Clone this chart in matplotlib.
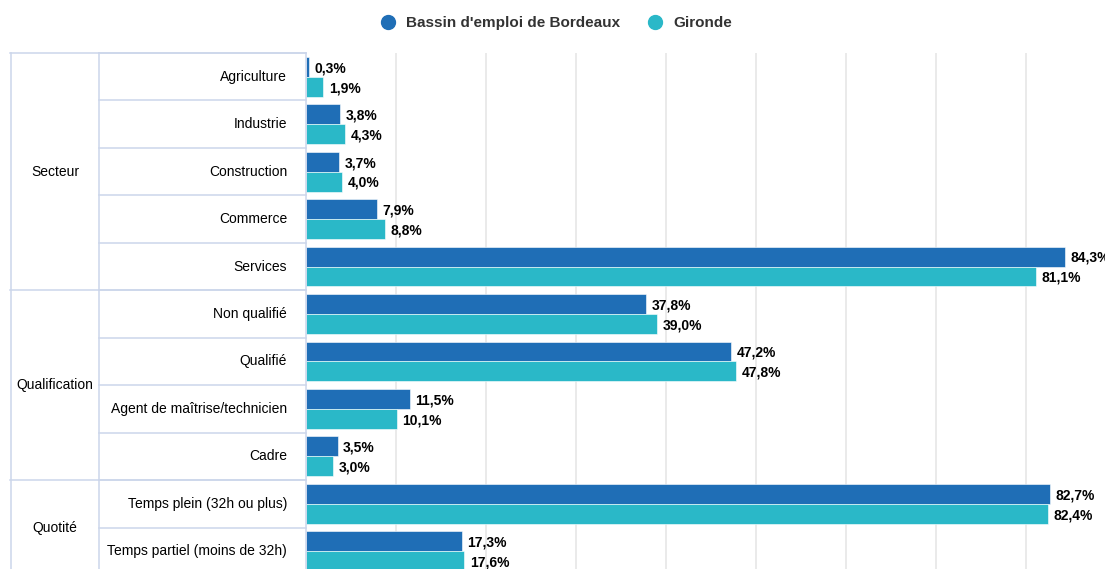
import matplotlib.pyplot as plt
from matplotlib.lines import Line2D

plt.rcParams['font.family'] = ['Liberation Sans', 'DejaVu Sans']

# data
groups = ['Secteur', 'Qualification', 'Quotité']
group_sizes = [5, 4, 2]
categories = ['Agriculture', 'Industrie', 'Construction', 'Commerce', 'Services',
              'Non qualifié', 'Qualifié', 'Agent de maîtrise/technicien', 'Cadre',
              'Temps plein (32h ou plus)', 'Temps partiel (moins de 32h)']
bordeaux = [0.3, 3.8, 3.7, 7.9, 84.3, 37.8, 47.2, 11.5, 3.5, 82.7, 17.3]
gironde = [1.9, 4.3, 4.0, 8.8, 81.1, 39.0, 47.8, 10.1, 3.0, 82.4, 17.6]
series_names = ["Bassin d'emploi de Bordeaux", 'Gironde']

blue = '#1f6eb6'
teal = '#2ab8c8'
line_col = '#ccd6eb'
W, H = 1105, 569

fig = plt.figure(figsize=(W / 100, H / 100), dpi=100)

# bar axes (right part runs past the figure edge, as in the original)
top, bottom = 53, 575
ax = fig.add_axes([306 / W, 1 - bottom / H, 900 / W, (bottom - top) / H])
n = len(categories)
rows = range(n)
bh = 0.42
ax.barh([i + 0.5 - bh / 2 for i in rows], bordeaux, height=bh, color=blue,
        edgecolor='white', linewidth=0.4, zorder=3)
ax.barh([i + 0.5 + bh / 2 for i in rows], gironde, height=bh, color=teal,
        edgecolor='white', linewidth=0.4, zorder=3)
for i in rows:
    for v, dy in ((bordeaux[i], -bh / 2), (gironde[i], bh / 2)):
        ax.annotate(f"{v:.1f}".replace('.', ',') + '%', (v, i + 0.5 + dy),
                    xytext=(4, -1), textcoords='offset points', va='center',
                    ha='left', fontsize=10, fontweight='bold', color='black',
                    zorder=4, annotation_clip=False)
ax.set_xlim(0, 100)
ax.set_ylim(n, 0)
for x in range(10, 101, 10):
    ax.axvline(x, color='#e6e6e6', lw=1.2, zorder=1)
for s in ax.spines.values():
    s.set_visible(False)
ax.set_xticks([])
ax.set_yticks([])

# grouped category table on the left
tx = fig.add_axes([10 / W, 1 - bottom / H, 296 / W, (bottom - top) / H])
tx.set_xlim(10, 306)
tx.set_ylim(n, 0)
tx.axis('off')
kw = dict(color=line_col, lw=1.1, clip_on=False)
for i in range(n + 1):
    tx.plot([99, 306], [i, i], **kw)
start = 0
for g, size in zip(groups, group_sizes):
    tx.plot([10, 306], [start, start], **kw)
    tx.text(55, start + size / 2, g, ha='center', va='center', fontsize=10)
    start += size
tx.plot([10, 306], [start, start], **kw)
for x in (10.5, 99, 305.5):
    tx.plot([x, x], [0, n], **kw)
for i, c in enumerate(categories):
    tx.text(287, i + 0.5, c, ha='right', va='center', fontsize=10)

# legend
for cx, col, name in ((388, blue, series_names[0]), (655, teal, series_names[1])):
    fig.add_artist(Line2D([cx / W], [1 - 22 / H], marker='o', markersize=10,
                          color=col, transform=fig.transFigure))
    fig.text((cx + 18) / W, 1 - 23 / H, name, ha='left', va='center',
             fontsize=11, fontweight='bold', color='#333333')

fig.savefig('out.png', dpi=100)
